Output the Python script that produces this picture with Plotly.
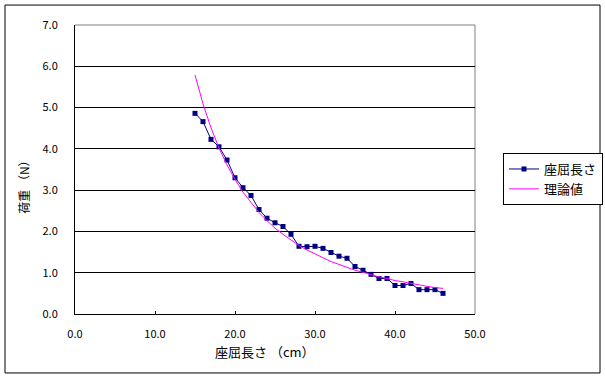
import plotly.graph_objects as go

# Data
length_cm = [15, 16, 17, 18, 19, 20, 21, 22, 23, 24, 25, 26, 27, 28, 29, 30,
             31, 32, 33, 34, 35, 36, 37, 38, 39, 40, 41, 42, 43, 44, 45, 46]
measured_load = [4.86, 4.66, 4.23, 4.05, 3.73, 3.30, 3.06, 2.87, 2.53, 2.32, 2.21,
                 2.12, 1.93, 1.64, 1.63, 1.64, 1.59, 1.49, 1.40, 1.35, 1.15, 1.06,
                 0.96, 0.86, 0.86, 0.69, 0.69, 0.74, 0.59, 0.59, 0.59, 0.50]
theory_load = [5.79, 5.09, 4.51, 4.02, 3.61, 3.26, 2.95, 2.69, 2.46, 2.26, 2.08,
               1.93, 1.79, 1.66, 1.55, 1.45, 1.36, 1.27, 1.20, 1.13, 1.06, 1.01,
               0.95, 0.90, 0.86, 0.81, 0.78, 0.74, 0.70, 0.67, 0.64, 0.62]
series_names = ["座屈長さ", "理論値"]
x_ticks = [0, 10, 20, 30, 40, 50]
y_ticks = [0, 1, 2, 3, 4, 5, 6, 7]
x_title = "座屈長さ （cm）"
y_title = "荷重 （N）"

FONT = "Noto Sans CJK JP, DejaVu Sans, sans-serif"

fig = go.Figure()
fig.add_trace(go.Scatter(
    x=length_cm, y=measured_load, name=series_names[0], mode="lines+markers",
    line=dict(color="#000080", width=1),
    marker=dict(symbol="square", size=5, color="#000080"),
))
fig.add_trace(go.Scatter(
    x=length_cm, y=theory_load, name=series_names[1], mode="lines",
    line=dict(color="#FF00FF", width=1),
))

fig.update_layout(
    width=605, height=379,
    autosize=False,
    margin=dict(l=75, r=130, t=25, b=65, autoexpand=False),
    paper_bgcolor="white", plot_bgcolor="white",
    font=dict(family=FONT, size=11, color="black"),
    showlegend=True,
    legend=dict(
        x=1.07, xanchor="left", y=0.557, yanchor="top",
        bordercolor="black", borderwidth=1, bgcolor="white",
        font=dict(family=FONT, size=13, color="black"),
        itemwidth=30, tracegroupgap=0,
    ),
    xaxis=dict(
        range=[0, 50], tickvals=x_ticks, tickformat=".1f",
        showgrid=False, zeroline=False,
        showline=True, linecolor="black", linewidth=1,
        ticks="inside", ticklen=3, tickcolor="black",
        ticklabelstandoff=10,
        tickfont=dict(family=FONT, size=11),
    ),
    yaxis=dict(
        range=[0, 7], tickvals=y_ticks, tickformat=".1f",
        showgrid=True, gridcolor="black", gridwidth=1, zeroline=False,
        showline=True, linecolor="black", linewidth=1,
        ticks="", ticklabelstandoff=14,
        tickfont=dict(family=FONT, size=11),
    ),
    shapes=[
        # grey top and right border of the plot area
        dict(type="line", xref="paper", yref="paper", x0=0, x1=1, y0=1, y1=1,
             line=dict(color="#808080", width=1), layer="between"),
        dict(type="line", xref="paper", yref="paper", x0=1, x1=1, y0=0, y1=1,
             line=dict(color="#808080", width=1), layer="between"),
        # outer chart frame
        dict(type="rect", xref="paper", yref="paper",
             x0=-0.175, x1=1.3125, y0=-0.204, y1=1.069,
             line=dict(color="black", width=1), layer="above"),
    ],
    annotations=[
        dict(text=x_title, xref="paper", yref="paper", x=0.475, y=-0.131,
             xanchor="center", yanchor="middle", showarrow=False,
             font=dict(family=FONT, size=13)),
        dict(text=y_title, xref="paper", yref="paper", x=-0.128, y=0.45,
             xanchor="center", yanchor="middle", showarrow=False, textangle=-90,
             font=dict(family=FONT, size=12)),
    ],
)

fig.write_html(
    "out.html",
    config={"displayModeBar": False},
    post_script="document.body.style.margin='0';document.body.style.overflow='hidden';",
)
